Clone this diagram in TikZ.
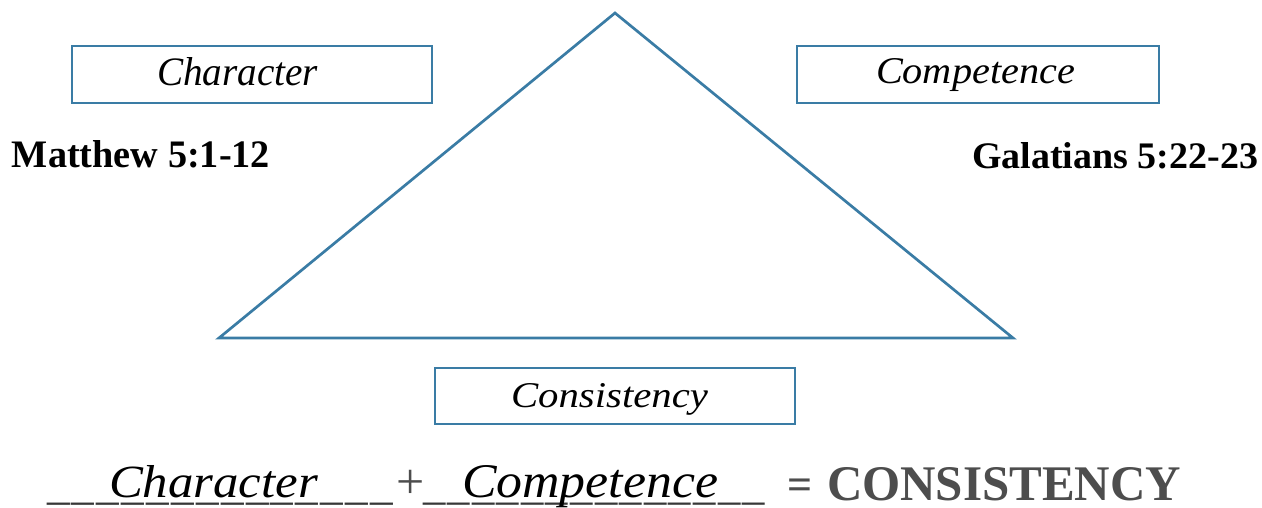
\documentclass[tikz,border=0pt]{standalone}
\usepackage{fontspec}
\setmainfont{Liberation Serif}
\usepackage{graphicx}
\definecolor{tri}{RGB}{58,124,165}
\definecolor{eqgray}{RGB}{77,77,77}
\definecolor{ugray}{RGB}{55,55,55}
\newcommand{\fitbox}[3]{\resizebox{#1pt}{#2pt}{#3}}
\newcommand{\usc}{\_\kern0.05em}
\newcommand{\uline}{\usc\usc\usc\usc\usc\usc\usc\usc\usc\usc\usc\usc\usc\_}
\begin{document}
\begin{tikzpicture}[x=1pt,y=-1pt,
  shapeline/.style={draw=tri,line width=2.7pt,line join=miter},
  labelbox/.style={draw=tri,line width=2.8pt,inner sep=0pt,outer sep=0pt},
  txt/.style={inner sep=0pt,outer sep=0pt,anchor=base west}]
\useasboundingbox (0,0) rectangle (1262,507);
% triangle
\coordinate (apex) at (615,13);
\coordinate (bl) at (219,338);
\coordinate (br) at (1013,338);
\draw[shapeline] (apex) -- (bl) -- (br) -- cycle;
% boxes
\node[labelbox,minimum width=360pt,minimum height=57pt] (charbox) at (252,74.5) {};
\node[labelbox,minimum width=362pt,minimum height=57pt] (compbox) at (978,74.5) {};
\node[labelbox,minimum width=360pt,minimum height=56pt] (consbox) at (615,396) {};
% box texts
\node[txt] (chartxt) at (157,85) {\fitbox{161}{28}{\itshape Character}};
\node[txt] (comptxt) at (876,83) {\fitbox{199}{25}{\itshape Competence}};
\node[txt] (constxt) at (511,407) {\fitbox{197}{24}{\itshape Consistency}};
% verses
\node[txt] (matt) at (12,167) {\fitbox{258}{27}{\bfseries Matthew 5:1-12}};
\node[txt] (gal) at (972,168) {\fitbox{286}{26}{\bfseries Galatians 5:22-23}};
% bottom equation
\node[txt] (u1) at (47,499) {\resizebox{346pt}{!}{\color{ugray}\uline}};
\node[txt] (u2) at (423,499) {\resizebox{342pt}{!}{\color{ugray}\uline}};
\node[txt] (bchar) at (109,497) {\fitbox{209}{32}{\itshape Character}};
\node[txt] (bcomp) at (462,497) {\fitbox{256}{32}{\itshape Competence}};
\node[inner sep=0pt] (plus) at (411,484) {\color{eqgray}\fontsize{50pt}{50pt}\selectfont +};
\node[inner sep=0pt] (eq) at (800.5,489) {\color{eqgray}\fontsize{44pt}{44pt}\selectfont\bfseries =};
\node[txt] (cons) at (827,500) {\fitbox{354}{33}{\color{eqgray}\bfseries CONSISTENCY}};
\end{tikzpicture}
\end{document}
